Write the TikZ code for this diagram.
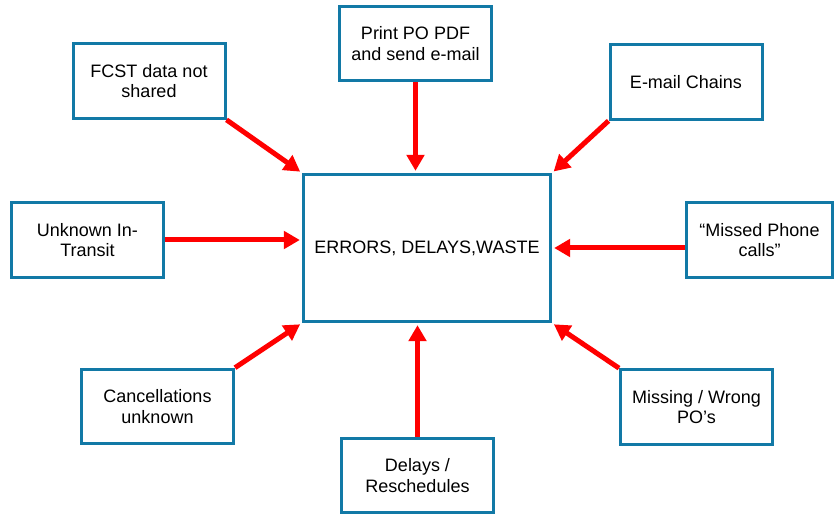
\documentclass[tikz,border=0pt]{standalone}
\usepackage{fontspec}
\setmainfont{Liberation Sans}
\usepackage{tikz}
\usepackage{xcolor}
\usetikzlibrary{arrows.meta, positioning}

\definecolor{boxblue}{RGB}{18,121,166}
\definecolor{arrred}{RGB}{255,0,0}

\tikzset{
  causebox/.style={draw=boxblue, line width=2.25pt, fill=white, align=center,
    minimum width=114pt, minimum height=56pt, inner sep=2pt,
    font=\fontsize{13.5}{15.5}\selectfont},
  effectbox/.style={causebox, minimum width=185.5pt, minimum height=110.5pt},
  redarrow/.style={draw=arrred, line width=3.75pt,
    -{Triangle[length=12pt,width=13pt]}, shorten >=1.5pt}
}

\begin{document}
\begin{tikzpicture}[x=0.75pt,y=-0.75pt]
  \useasboundingbox (0,0) rectangle (834,516);
  % central effect
  \node[effectbox] (err) at (427,248) {ERRORS, DELAYS,WASTE};
  % causes, top row
  \node[causebox] (fcst) at (149,81) {FCST data not\\shared};
  \node[causebox] (pdf) at (415.5,43.5) {Print PO PDF\\and send e-mail};
  \node[causebox] (email) at (686,82) {E-mail Chains};
  % causes, middle row
  \node[causebox] (transit) at (87.5,240) {Unknown In-\\Transit};
  \node[causebox, minimum width=110pt] (phone) at (759.5,240) {``Missed Phone\\calls''};
  % causes, bottom row
  \node[causebox] (cancel) at (157.5,406.5) {Cancellations\\unknown};
  \node[causebox] (delays) at (417.5,475.5) {Delays /\\Reschedules};
  \node[causebox] (wrong) at (696.5,407) {Missing / Wrong\\PO's};
  % arrows into the effect
  \draw[redarrow] (fcst.south east) -- (err.north west);
  \draw[redarrow] (pdf.south) -- (pdf.south |- err.north);
  \draw[redarrow] (email.south west) -- (err.north east);
  \draw[redarrow] (transit.east) -- (err.west |- transit.east);
  \draw[redarrow] (phone.west |- err.east) -- (err.east);
  \draw[redarrow] (cancel.north east) -- (err.south west);
  \draw[redarrow] (delays.north) -- (delays.north |- err.south);
  \draw[redarrow] (wrong.north west) -- (err.south east);
\end{tikzpicture}
\end{document}
